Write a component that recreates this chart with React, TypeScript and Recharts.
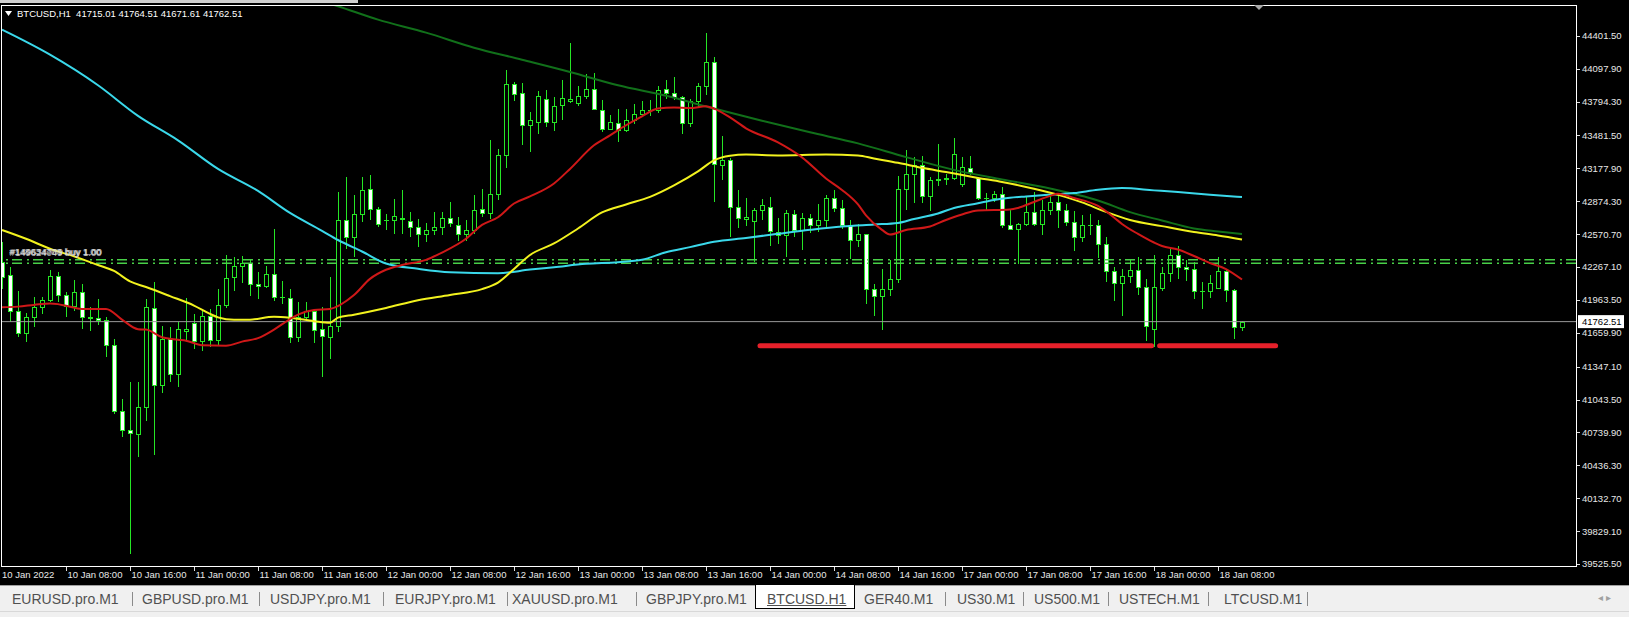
import React from 'react';
import { ComposedChart, Bar, Line, XAxis, YAxis, ReferenceLine } from 'recharts';

// ---------- data ----------
const OPEN = [
  42311, 42197, 41864, 41654, 41802, 41901, 41963, 42188, 42010, 41911,
  42040, 41802, 41797, 41778, 41550, 40934, 40762, 40725, 40970, 41889,
  41177, 41603, 41279, 41680, 41747, 41587, 41818, 41593, 41920, 42172,
  42280, 42308, 42111, 42089, 42204, 41987, 41982, 41618, 41802, 41864,
  41695, 41618, 41726, 42703, 42542, 42758, 42989, 42805, 42703, 42703,
  42712, 42690, 42634, 42573, 42610, 42634, 42721, 42659, 42567, 42610,
  42805, 42764, 42943, 43297, 43954, 43873, 43575, 43605, 43821, 43605,
  43759, 43799, 43781, 43843, 43914, 43720, 43538, 43596, 43528, 43627,
  43683, 43720, 43712, 43914, 43873, 43836, 43596, 43799, 43935, 44160,
  43205, 43257, 42819, 42712, 42690, 42789, 42819, 42588, 42558, 42752,
  42604, 42721, 42650, 42696, 42906, 42814, 42650, 42518, 42567, 42065,
  42003, 42065, 42157, 42989, 43122, 43205, 42918, 43066, 43082, 43085,
  43036, 43184, 43090, 42906, 42903, 42943, 42650, 42620, 42666, 42773,
  42666, 42795, 42866, 42789, 42681, 42542, 42650, 42655, 42481, 42228,
  42117, 42188, 42241, 42080, 41690, 42074, 42209, 42382, 42268, 42252,
  42043, 42043, 42074, 42234, 42056, 41715.01,
];
const HIGH = [
  42496, 42271, 42043, 41846, 41987, 41987, 42241, 42225, 42034, 42148,
  42111, 41895, 41973, 41802, 41603, 41048, 41202, 41202, 41973, 42126,
  41726, 41716, 41756, 41982, 41834, 41880, 41883, 42065, 42382, 42357,
  42364, 42327, 42218, 42280, 42620, 42142, 42065, 41941, 41941, 41880,
  41895, 42172, 42958, 43097, 42927, 43097, 43112, 42819, 42758, 42897,
  42974, 42773, 42712, 42671, 42773, 42773, 42866, 42727, 42696, 42927,
  42989, 43442, 43359, 44083, 43975, 43966, 43697, 43892, 43898, 43836,
  43991, 44335, 43935, 44052, 44058, 43812, 43667, 43729, 43729, 43775,
  43799, 43806, 43935, 43991, 44021, 43845, 43821, 43966, 44422, 44206,
  43473, 43270, 42974, 42906, 42814, 42897, 42912, 42721, 42795, 42789,
  42764, 42758, 42851, 42927, 42980, 42888, 42703, 42666, 42573, 42111,
  42250, 42327, 43103, 43350, 43282, 43288, 43097, 43405, 43128, 43461,
  43282, 43288, 43100, 42949, 42967, 43004, 42798, 42671, 42912, 42958,
  42881, 42927, 42943, 42851, 42780, 42743, 42758, 42696, 42548, 42265,
  42250, 42333, 42357, 42157, 42373, 42271, 42435, 42456, 42327, 42311,
  42126, 42197, 42357, 42250, 42062, 41764.51,
];
const LOW = [
  42065, 41756, 41618, 41571, 41710, 41834, 41941, 41941, 41802, 41864,
  41695, 41680, 41735, 41433, 40910, 40700, 39621, 40515, 40841, 40533,
  41100, 41208, 41155, 41587, 41510, 41488, 41525, 41541, 41889, 42049,
  42117, 42003, 41973, 42074, 41957, 41926, 41562, 41571, 41772, 41562,
  41248, 41418, 41664, 42435, 42357, 42681, 42696, 42634, 42604, 42573,
  42567, 42542, 42450, 42496, 42558, 42558, 42634, 42511, 42511, 42567,
  42727, 42712, 42881, 43184, 43799, 43390, 43328, 43491, 43559, 43522,
  43627, 43781, 43750, 43821, 43713, 43513, 43528, 43420, 43513, 43590,
  43651, 43658, 43685, 43821, 43806, 43491, 43559, 43744, 43852, 42866,
  43066, 42548, 42629, 42641, 42311, 42696, 42456, 42481, 42357, 42542,
  42426, 42579, 42588, 42634, 42773, 42620, 42342, 42450, 41926, 41818,
  41686, 42003, 42117, 42789, 42856, 42856, 42782, 43011, 43020, 43070,
  43004, 43112, 42881, 42795, 42866, 42629, 42604, 42296, 42641, 42641,
  42558, 42743, 42629, 42641, 42413, 42496, 42558, 42352, 42126, 41950,
  41818, 42117, 42012, 41587, 41525, 42043, 42126, 42157, 42142, 41973,
  41880, 41982, 42065, 41941, 41603, 41671.61,
];
const CLOSE = [
  42172, 41864, 41654, 41809, 41901, 41963, 42188, 42012, 41911, 42040,
  41802, 41800, 41778, 41550, 40934, 40762, 40734, 40977, 41901, 41177,
  41603, 41279, 41695, 41698, 41587, 41818, 41593, 41920, 42167, 42280,
  42308, 42111, 42093, 42204, 41987, 41991, 41618, 41802, 41864, 41686,
  41633, 41726, 42703, 42542, 42758, 42980, 42805, 42666, 42700, 42733,
  42715, 42634, 42567, 42610, 42634, 42721, 42671, 42573, 42610, 42795,
  42764, 42937, 43297, 43954, 43861, 43575, 43627, 43843, 43605, 43750,
  43831, 43821, 43843, 43914, 43729, 43544, 43605, 43528, 43627, 43683,
  43720, 43712, 43905, 43873, 43836, 43596, 43799, 43935, 44160, 43220,
  43257, 42819, 42721, 42725, 42795, 42835, 42597, 42558, 42764, 42604,
  42721, 42650, 42696, 42906, 42814, 42650, 42518, 42567, 42065, 42003,
  42065, 42157, 42989, 43122, 43205, 42918, 43066, 43082, 43085, 43313,
  43189, 43143, 42906, 42903, 42937, 42650, 42620, 42666, 42773, 42666,
  42795, 42866, 42789, 42681, 42542, 42650, 42655, 42481, 42228, 42117,
  42188, 42241, 42080, 41726, 42080, 42209, 42382, 42265, 42250, 42043,
  42046, 42117, 42234, 42056, 41715, 41762.51,
];

// moving averages: [bar index, price]
const RED_MA: [number, number][] = [
  [0, 41895], [2, 41901], [4, 41917], [6, 41931], [7, 41924], [8, 41909], [10, 41880],
  [13, 41880], [15, 41781], [17, 41693], [18, 41689], [20, 41619], [22, 41596], [23, 41587],
  [25, 41545], [28, 41541], [30, 41578], [32, 41610], [34, 41689], [36, 41786], [37, 41827],
  [39, 41869], [41, 41880], [44, 42008], [46, 42157], [48, 42241], [50, 42285], [53, 42333],
  [55, 42400], [58, 42527], [60, 42655], [62, 42726], [64, 42853], [66, 42918], [69, 43038],
  [71, 43172], [74, 43390], [76, 43482], [78, 43575], [80, 43658], [82, 43729], [84, 43738],
  [86, 43734], [88, 43750], [89, 43729], [91, 43648], [93, 43547], [97, 43417], [100, 43279],
  [103, 43084], [105, 42978], [107, 42844], [108, 42743], [110, 42609], [111, 42567],
  [113, 42609], [116, 42641], [118, 42701], [120, 42752], [122, 42789], [126, 42798],
  [127, 42812], [129, 42867], [131, 42923], [132, 42943], [134, 42904], [137, 42830],
  [139, 42724], [140, 42664], [142, 42572], [144, 42493], [145, 42461], [147, 42428],
  [149, 42368], [151, 42303], [153, 42248], [155, 42151],
];
const YELLOW_MA: [number, number][] = [
  [0, 42608], [3, 42527], [6, 42435], [9, 42365], [12, 42285], [14, 42230], [16, 42134],
  [18, 42082], [21, 41998], [24, 41911], [26, 41834], [27, 41802], [29, 41779], [31, 41781],
  [34, 41807], [36, 41798], [39, 41767], [41, 41752], [42, 41800], [44, 41827], [48, 41889],
  [52, 41960], [56, 42009], [60, 42063], [62, 42123], [64, 42248], [66, 42377], [69, 42484],
  [72, 42622], [75, 42770], [78, 42844], [81, 42914], [84, 43020], [87, 43149], [89, 43251],
  [91, 43293], [93, 43304], [97, 43297], [103, 43306], [107, 43297], [109, 43269],
  [112, 43228], [115, 43182], [118, 43143], [122, 43089], [125, 43052], [129, 42989],
  [133, 42912], [135, 42863], [138, 42775], [141, 42701], [145, 42644], [149, 42590],
  [152, 42558], [155, 42521],
];
const CYAN_MA: [number, number][] = [
  [0, 44457], [6, 44226], [12, 43944], [17, 43662], [22, 43436], [27, 43172], [32, 42969],
  [36, 42766], [40, 42601], [42, 42516], [45, 42410], [48, 42299], [52, 42250], [56, 42218],
  [62, 42209], [66, 42243], [69, 42265], [73, 42296], [77, 42311], [80, 42333], [83, 42403],
  [86, 42450], [89, 42500], [93, 42535], [97, 42573], [101, 42610], [105, 42641],
  [109, 42659], [112, 42673], [114, 42710], [117, 42761], [119, 42812], [122, 42856],
  [124, 42886], [126, 42906], [128, 42918], [131, 42934], [134, 42949], [137, 42980],
  [140, 42995], [144, 42974], [147, 42958], [151, 42934], [155, 42912],
];
const GREEN_MA: [number, number][] = [
  [38, 44767], [42, 44674], [47, 44550], [53, 44430], [59, 44291], [65, 44180], [71, 44067],
  [77, 43944], [83, 43847], [89, 43729], [95, 43616], [101, 43510], [107, 43408],
  [113, 43281], [119, 43163], [125, 43075], [131, 42992], [137, 42881], [141, 42773],
  [145, 42696], [149, 42622], [152, 42595], [155, 42572],
];

const X_TICK_POS = [0, 8, 16, 24, 32, 40, 48, 56, 64, 72, 80, 88, 96, 104, 112, 120, 128, 136, 144, 152];
const X_TICK_LABELS = [
  '10 Jan 2022', '10 Jan 08:00', '10 Jan 16:00', '11 Jan 00:00', '11 Jan 08:00', '11 Jan 16:00',
  '12 Jan 00:00', '12 Jan 08:00', '12 Jan 16:00', '13 Jan 00:00', '13 Jan 08:00', '13 Jan 16:00',
  '14 Jan 00:00', '14 Jan 08:00', '14 Jan 16:00', '17 Jan 00:00', '17 Jan 08:00', '17 Jan 16:00',
  '18 Jan 00:00', '18 Jan 08:00',
];
const Y_TICKS = [
  44401.5, 44097.9, 43794.3, 43481.5, 43177.9, 42874.3, 42570.7, 42267.1, 41963.5,
  41659.9, 41347.1, 41043.5, 40739.9, 40436.3, 40132.7, 39829.1, 39525.5,
];
const LAST_PRICE = 41762.51;
const ORDER_LEVELS = [42333, 42302];
const ORDER_LABELS = ['#148634703 buy 1.00', '#149624049 buy 1.00', '#149634709 buy 1.00'];
const SUPPORT_LEVEL = 41541;
const SUPPORT_SEGMENTS: [number, number][] = [[94.75, 143.7], [144.7, 159.2]];
const HEADER_SYMBOL = 'BTCUSD,H1';
const HEADER_OHLC = ['41715.01', '41764.51', '41671.61', '41762.51'];
const TABS = [
  'EURUSD.pro.M1', 'GBPUSD.pro.M1', 'USDJPY.pro.M1', 'EURJPY.pro.M1', 'XAUUSD.pro.M1',
  'GBPJPY.pro.M1', 'BTCUSD.H1', 'GER40.M1', 'US30.M1', 'US500.M1', 'USTECH.M1', 'LTCUSD.M1',
];
const ACTIVE_TAB = 'BTCUSD.H1';

// ---------- table for the library ----------
type Row = { i: number; o: number; h: number; l: number; c: number; range: [number, number]; [k: string]: any };
const rows: Row[] = OPEN.map((o, i) => ({ i, o, h: HIGH[i], l: LOW[i], c: CLOSE[i], range: [LOW[i], HIGH[i]] }));
const attach = (key: string, arr: [number, number][]) => arr.forEach(([i, v]) => { rows[i][key] = v; });
attach('red', RED_MA);
attach('yellow', YELLOW_MA);
attach('cyan', CYAN_MA);
attach('green', GREEN_MA);

// ---------- styling ----------
const LIME = '#25e625';
const FONT = '"Liberation Sans", Arial, sans-serif';
const TAB_X = [12, 142, 270, 395, 512, 646, 767, 864, 957, 1034, 1119, 1224];
const TAB_SEP = [132, 259, 383, 507, 636, 945, 1023, 1108, 1208, 1307];

function Candle(props: any) {
  const { x, y, width, height, payload } = props;
  if (!payload || !Number.isFinite(x) || !Number.isFinite(y)) return null;
  const { o, h, l, c } = payload;
  const k = h > l ? height / (h - l) : 0;
  const py = (v: number) => y + (h - v) * k;
  const cx = Math.round(x + width / 2);
  const top = Math.round(py(Math.max(o, c)));
  const bot = Math.round(py(Math.min(o, c)));
  const bull = c >= o;
  return (
    <g>
      <line x1={cx + 0.5} x2={cx + 0.5} y1={Math.round(y)} y2={Math.round(y + height)} stroke={LIME} strokeWidth={1} />
      {bot - top < 1 ? (
        <line x1={cx - 2} x2={cx + 3} y1={top + 0.5} y2={top + 0.5} stroke={LIME} strokeWidth={1} />
      ) : (
        <rect x={cx - 1.5} y={top + 0.5} width={4} height={bot - top} fill={bull ? '#000' : '#fff'} stroke={LIME} strokeWidth={1} />
      )}
    </g>
  );
}

function XTick(props: any) {
  const { x, y, payload } = props;
  const idx = X_TICK_POS.indexOf(payload.value);
  const label = X_TICK_LABELS[idx] ?? '';
  const px = Math.round(x) + 0.5;
  return (
    <g>
      {idx > 0 && <line x1={px} x2={px} y1={y} y2={y + 5} stroke="#e0e0e0" strokeWidth={1} />}
      <text x={idx > 0 ? px + 1 : 2} y={y + 12} fill="#e8e8e8" fontSize={9.5} fontFamily={FONT}>{label}</text>
    </g>
  );
}

function YTick(props: any) {
  const { x, y, payload } = props;
  const py = Math.round(y) + 0.5;
  return (
    <g>
      <line x1={x} x2={x + 4} y1={py} y2={py} stroke="#e0e0e0" strokeWidth={1} />
      <text x={x + 6} y={y + 3.5} fill="#e8e8e8" fontSize={9.5} fontFamily={FONT}>{Number(payload.value).toFixed(2)}</text>
    </g>
  );
}

function PriceTag(props: any) {
  const vb = props.viewBox || {};
  const y = vb.y ?? 0;
  const right = (vb.x ?? 0) + (vb.width ?? 0);
  return (
    <g>
      <rect x={right + 2} y={y - 6.5} width={46} height={13} fill="#fff" />
      <text x={right + 6} y={y + 3.5} fill="#000" fontSize={9.5} fontFamily={FONT}>{LAST_PRICE.toFixed(2)}</text>
    </g>
  );
}

export default function App() {
  return (
    <div style={{ position: 'fixed', left: 0, top: 0, width: 1629, height: 617, background: '#000', overflow: 'hidden', fontFamily: FONT }}>
      <ComposedChart width={1629} height={584} data={rows} margin={{ top: 5, right: 0, bottom: 0, left: 1.5 }}>
        <XAxis dataKey="i" type="number" domain={[-0.0625, 196.75]} allowDataOverflow ticks={X_TICK_POS} interval={0}
          tick={<XTick />} height={18} axisLine={false} tickLine={false} tickSize={0} tickMargin={0} />
        <YAxis orientation="right" type="number" domain={[39507, 44685]} allowDataOverflow ticks={Y_TICKS} interval={0}
          tick={<YTick />} width={53} axisLine={false} tickLine={false} tickSize={0} tickMargin={0} />
        {ORDER_LEVELS.map((lv) => (
          <ReferenceLine key={lv} y={lv} stroke="#48d048" strokeWidth={1.5} strokeDasharray="10 4 2 5" />
        ))}
        <ReferenceLine y={LAST_PRICE} stroke="#9a9a9a" strokeWidth={1} label={<PriceTag />} />
        <Bar dataKey="range" barSize={8} shape={<Candle />} isAnimationActive={false} />
        <Line dataKey="green" type="monotone" connectNulls dot={false} stroke="#11701a" strokeWidth={2} isAnimationActive={false} />
        <Line dataKey="cyan" type="monotone" connectNulls dot={false} stroke="#3ad8ea" strokeWidth={2} isAnimationActive={false} />
        <Line dataKey="yellow" type="monotone" connectNulls dot={false} stroke="#f2f21e" strokeWidth={2} isAnimationActive={false} />
        <Line dataKey="red" type="monotone" connectNulls dot={false} stroke="#cf1818" strokeWidth={2} isAnimationActive={false} />
        {SUPPORT_SEGMENTS.map(([a, b]) => (
          <ReferenceLine key={a} segment={[{ x: a, y: SUPPORT_LEVEL }, { x: b, y: SUPPORT_LEVEL }]}
            stroke="#e6202a" strokeWidth={5} strokeLinecap="round" />
        ))}
      </ComposedChart>

      {/* chart frame */}
      <div style={{ position: 'absolute', left: 1, top: 5, width: 1576, height: 562, border: '1px solid #fff', boxSizing: 'border-box', pointerEvents: 'none' }} />
      {/* top strip */}
      <div style={{ position: 'absolute', left: 0, top: 0, width: 358, height: 3, background: '#cfcfcf' }} />
      <svg style={{ position: 'absolute', left: 0, top: 0 }} width={1629} height={20}>
        <polygon points="5,11 12,11 8.5,16" fill="#fff" />
        <polygon points="1254,5 1264,5 1259,10" fill="#a8a8a8" />
      </svg>
      <div style={{ position: 'absolute', left: 17, top: 8, fontSize: 9.5, lineHeight: '12px', color: '#fff', whiteSpace: 'pre' }}>
        {HEADER_SYMBOL + '  ' + HEADER_OHLC.join(' ')}
      </div>
      {ORDER_LABELS.map((t, k) => (
        <div key={t} style={{ position: 'absolute', left: 9 + k * 0.6, top: 246 + (k % 2), fontSize: 9.5, lineHeight: '12px', color: '#dcdcdc', whiteSpace: 'pre', opacity: 0.85 }}>{t}</div>
      ))}

      {/* tab bar */}
      <div style={{ position: 'absolute', left: 0, top: 585, width: 1629, height: 26, background: '#f0f0f0', borderTop: '1px solid #a0a0a0', boxSizing: 'border-box' }} />
      <div style={{ position: 'absolute', left: 755, top: 585, width: 100, height: 24, background: '#fff', borderLeft: '1px solid #000', borderRight: '1px solid #000', borderBottom: '1px solid #000', boxSizing: 'border-box' }} />
      {TAB_SEP.map((sx) => (
        <div key={sx} style={{ position: 'absolute', left: sx, top: 592, width: 1, height: 14, background: '#8a8a8a' }} />
      ))}
      {TABS.map((t, k) => (
        <div key={t} style={{ position: 'absolute', left: TAB_X[k], top: 590, fontSize: 14, lineHeight: '18px', color: '#505050', whiteSpace: 'pre', textDecoration: t === ACTIVE_TAB ? 'underline' : 'none' }}>{t}</div>
      ))}
      <div style={{ position: 'absolute', left: 1598, top: 592, fontSize: 10, color: '#a0a0a0' }}>◂ ▸</div>
      <div style={{ position: 'absolute', left: 0, top: 611, width: 1629, height: 6, background: '#f0f0f0', borderTop: '1px solid #d8d8d8', boxSizing: 'border-box' }} />
    </div>
  );
}
